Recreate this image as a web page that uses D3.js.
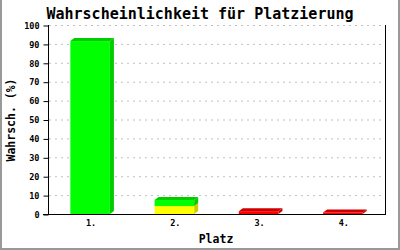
<!DOCTYPE html>
<html>
<head>
<meta charset="utf-8">
<title></title>
<script src="https://cdnjs.cloudflare.com/ajax/libs/d3/7.8.5/d3.min.js"></script>
<style>
  body { margin: 0; background-color: white }
  svg { display: block }
  text { font-family: "DejaVu Sans Mono", monospace; font-weight: bold }
</style>
</head>
<body>
<div id="chart"></div>
<script>
// data
var places = ["1.", "2.", "3.", "4."];
var yellowVals = [0, 4.2, 0, 0];
var greenVals = [91.5, 3.2, 0, 0];
var redVals = [0, 0, 1.5, 0.8];
var yTicks = [0, 10, 20, 30, 40, 50, 60, 70, 80, 90, 100];

var W = 400, H = 250;
var m = {left: 48, right: 15, top: 25, bottom: 36};

var svg = d3.select("#chart").append("svg")
    .attr("width", W).attr("height", H);

// grey frame (left, right, bottom)
svg.append("path")
    .attr("d", "M1,0V249H399V0")
    .attr("fill", "none").attr("stroke", "#999").attr("stroke-width", 2);

var x = d3.scaleBand().domain(places).range([m.left, W - m.right])
    .paddingInner(0.53).paddingOuter(0.265);
var y = d3.scaleLinear().domain([0, 100]).range([H - m.bottom, m.top]);

// grid
svg.append("g").selectAll("line").data(yTicks.slice(1)).enter().append("line")
    .attr("x1", m.left + 1).attr("x2", W - m.right - 3)
    .attr("y1", function(d){ return y(d) + 0.5 }).attr("y2", function(d){ return y(d) + 0.5 })
    .attr("stroke", "#c0c0c0").attr("stroke-dasharray", "2,4");

// y axis
var yAxis = d3.axisLeft(y).tickValues(yTicks).tickSize(5).tickPadding(4).tickFormat(d3.format("d"));
var gy = svg.append("g").attr("transform", "translate(" + (m.left + 0.5) + ",0.5)").call(yAxis);
gy.select(".domain").remove();
gy.selectAll("line").attr("stroke", "#000");
gy.selectAll("text").attr("font-size", 8.5).attr("fill", "#000")
    .style("font-family", "DejaVu Sans Mono").style("font-weight", "bold");

// axes lines
svg.append("line").attr("x1", m.left + 0.5).attr("x2", m.left + 0.5)
    .attr("y1", m.top).attr("y2", H - m.bottom).attr("stroke", "#000");
svg.append("line").attr("x1", W - m.right + 0.5).attr("x2", W - m.right + 0.5)
    .attr("y1", m.top).attr("y2", H - m.bottom).attr("stroke", "#000");

// bars (stacked, with 3D depth)
var stack = d3.stack().keys(["yellow", "green", "red"]);
var rows = places.map(function(p, i){
  return {place: p, yellow: yellowVals[i], green: greenVals[i], red: redVals[i]};
});
var series = stack(rows);
var colors = {yellow: ["#ffff00", "#cccc00"], green: ["#00ff00", "#00cc00"], red: ["#ff0000", "#cc0000"]};
var dx = 4, dy = 3;

series.forEach(function(s){
  var g = svg.append("g");
  s.forEach(function(d){
    if (d[1] - d[0] <= 0) return;
    var x0 = x(d.data.place), x1 = x0 + x.bandwidth();
    var yb = y(d[0]), yt = y(d[1]);
    var c = colors[s.key];
    g.append("path")
      .attr("d", "M" + x1 + "," + yb + "L" + (x1 + dx) + "," + (yb - dy) + "L" + (x1 + dx) + "," + (yt - dy) + "L" + x1 + "," + yt + "Z")
      .attr("fill", c[1]);
    g.append("path")
      .attr("d", "M" + x0 + "," + yt + "L" + (x0 + dx) + "," + (yt - dy) + "L" + (x1 + dx) + "," + (yt - dy) + "L" + x1 + "," + yt + "Z")
      .attr("fill", c[1]);
    g.append("rect").attr("x", x0).attr("y", yt)
      .attr("width", x.bandwidth()).attr("height", yb - yt).attr("fill", c[0]);
  });
});

// x axis line
svg.append("line").attr("x1", m.left - 5).attr("x2", W - m.right + 1)
    .attr("y1", H - m.bottom + 0.5).attr("y2", H - m.bottom + 0.5).attr("stroke", "#000");

// x labels
svg.append("g").selectAll("text").data(places).enter().append("text")
    .attr("x", function(d){ return x(d) + x.bandwidth() / 2 + 1 })
    .attr("y", H - m.bottom + 12)
    .attr("text-anchor", "middle").attr("font-size", 8.5)
    .text(function(d){ return d });

// titles
svg.append("text").attr("x", 200).attr("y", 19).attr("text-anchor", "middle")
    .attr("font-size", 15).text("Wahrscheinlichkeit für Platzierung");
svg.append("text").attr("x", 216).attr("y", 243).attr("text-anchor", "middle")
    .attr("font-size", 11.5).text("Platz");
svg.append("text").attr("transform", "translate(15,120) rotate(-90)")
    .attr("text-anchor", "middle").attr("font-size", 11.5).text("Wahrsch. (%)");
</script>
</body>
</html>
